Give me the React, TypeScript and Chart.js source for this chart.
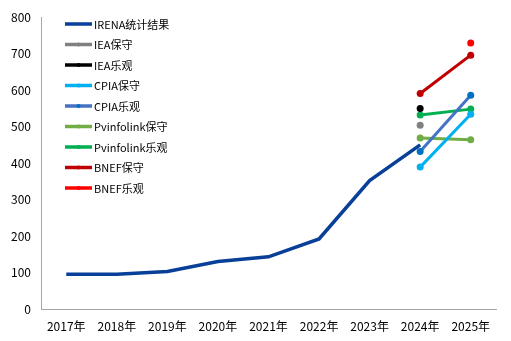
import React, { useEffect, useRef } from "react";
import { Chart, registerables } from "chart.js";

Chart.register(...registerables);

const categories = ["2017年", "2018年", "2019年", "2020年", "2021年", "2022年", "2023年", "2024年", "2025年"];
const irena = [95, 95, 103, 130, 143, 192, 352, 450, null];
const ieaCons = [null, null, null, null, null, null, null, 504, null];
const ieaOpt = [null, null, null, null, null, null, null, 550, null];
const cpiaCons = [null, null, null, null, null, null, null, 389, 534];
const cpiaOpt = [null, null, null, null, null, null, null, 432, 586];
const pvCons = [null, null, null, null, null, null, null, 469, 464];
const pvOpt = [null, null, null, null, null, null, null, 532, 548];
const bnefCons = [null, null, null, null, null, null, null, 591, 696];
const bnefOpt = [null, null, null, null, null, null, null, null, 729];
const yTicks = [0, 100, 200, 300, 400, 500, 600, 700, 800];

const FONT = "'Noto Sans CJK SC', 'Noto Sans', sans-serif";

const legendPlugin = {
  id: "insideLegend",
  afterDraw(chart: any) {
    const ctx = chart.ctx;
    ctx.save();
    chart.data.datasets.forEach((ds: any, i: number) => {
      const y = 24 + i * 20.5;
      ctx.strokeStyle = ds.borderColor;
      ctx.lineWidth = 3.5;
      ctx.beginPath();
      ctx.moveTo(65, y);
      ctx.lineTo(92, y);
      ctx.stroke();
      if (i > 0) {
        ctx.fillStyle = ds.pointBackgroundColor || ds.borderColor;
        ctx.beginPath();
        ctx.arc(78.5, y, 2, 0, Math.PI * 2);
        ctx.fill();
      }
      ctx.fillStyle = "#000";
      ctx.font = `11px ${FONT}`;
      ctx.textBaseline = "middle";
      ctx.textAlign = "left";
      ctx.fillText(ds.label, 94, y + 0.5);
    });
    ctx.restore();
  },
};

export default function App() {
  const ref = useRef<HTMLCanvasElement>(null);
  useEffect(() => {
    document.body.style.margin = "0";
    const mk = (label: string, data: any[], color: string, pointColor?: string, showPoints = true) => ({
      label,
      data,
      borderColor: color,
      backgroundColor: pointColor || color,
      pointBackgroundColor: pointColor || color,
      pointBorderColor: pointColor || color,
      borderWidth: 3,
      pointRadius: showPoints ? 3.5 : 0,
      pointBorderWidth: 0,
      pointHoverRadius: 3.5,
      tension: 0,
      spanGaps: false,
    });
    const chart = new Chart(ref.current!, {
      type: "line",
      data: {
        labels: categories,
        datasets: [
          { ...mk("IRENA统计结果", irena, "#083F98", undefined, false), borderWidth: 3.5 },
          mk("IEA保守", ieaCons, "#808080"),
          mk("IEA乐观", ieaOpt, "#000000"),
          mk("CPIA保守", cpiaCons, "#00B0F0"),
          mk("CPIA乐观", cpiaOpt, "#4472C4", "#0070C0"),
          mk("Pvinfolink保守", pvCons, "#70AD47"),
          mk("Pvinfolink乐观", pvOpt, "#00B050"),
          mk("BNEF保守", bnefCons, "#C00000"),
          mk("BNEF乐观", bnefOpt, "#FF0000"),
        ],
      },
      options: {
        animation: false,
        responsive: false,
        layout: { padding: { top: 13, right: 15, left: 0, bottom: 0 } },
        plugins: { legend: { display: false }, tooltip: { enabled: false } },
        scales: {
          x: {
            offset: true,
            grid: { display: false, drawTicks: false },
            border: { display: true, color: "#A6A6A6", width: 1 },
            ticks: { color: "#000", font: { family: FONT, size: 12 }, padding: 10, maxRotation: 0, autoSkip: false },
            afterFit: (s: any) => { s.height = 32; },
          },
          y: {
            min: 0,
            max: 800,
            afterBuildTicks: (s: any) => { s.ticks = yTicks.map((v) => ({ value: v })); },
            grid: { display: false, drawTicks: false },
            border: { display: true, color: "#A6A6A6", width: 1 },
            ticks: { color: "#000", font: { family: FONT, size: 12 }, padding: 10 },
            afterFit: (s: any) => { s.width = 41; },
          },
        },
      },
      plugins: [legendPlugin],
    });
    return () => chart.destroy();
  }, []);
  return (
    <div style={{ width: 511, height: 341 }}>
      <canvas ref={ref} width={511} height={341} style={{ display: "block" }} />
    </div>
  );
}
